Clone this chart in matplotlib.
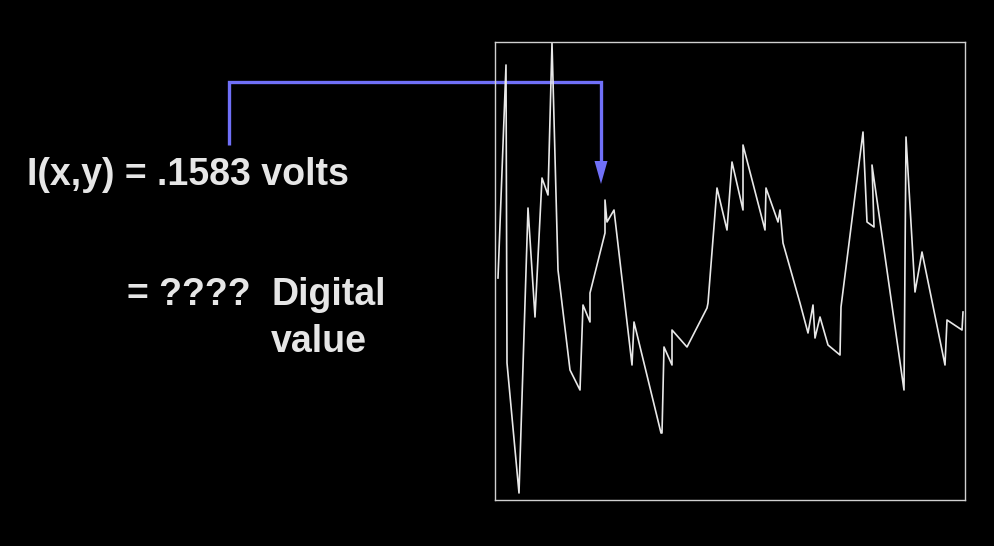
import matplotlib
matplotlib.use("Agg")
import matplotlib.pyplot as plt
from matplotlib.patches import Polygon

# waveform samples (time, amplitude)
t = [3, 11, 12, 24, 33, 40, 47, 53, 57, 63, 75, 85, 88, 95, 95, 110, 110, 112, 119,
     137, 139, 166, 167, 169, 177, 177, 192, 212, 213, 222, 232, 237, 248, 248, 270,
     271, 283, 285, 288, 305, 313, 318, 320, 325, 333, 345, 346, 368, 372, 379, 377,
     409, 411, 420, 427, 450, 452, 467, 468]
v = [222, 435, 137, 7, 292, 183, 322, 305, 457, 230, 130, 110, 195, 178, 207, 267,
     300, 278, 290, 135, 178, 67, 67, 153, 135, 170, 153, 192, 197, 312, 270, 338,
     290, 355, 270, 312, 278, 290, 257, 197, 167, 195, 162, 183, 155, 145, 193, 368,
     278, 273, 335, 110, 363, 208, 248, 135, 180, 170, 188]

label_main = "I(x,y) = .1583 volts"
label_q = "= ????"
label_d = "Digital"
label_v = "value"

W, H = 994, 546
fig = plt.figure(figsize=(W / 100, H / 100), dpi=100, facecolor="black")

# overlay in pixel coords for text and arrow
bg = fig.add_axes([0, 0, 1, 1], zorder=0)
bg.set_xlim(0, W)
bg.set_ylim(H, 0)
bg.axis("off")
bg.set_facecolor("black")

txt = dict(color="#e6e6e6", fontsize=27, fontweight="bold",
           family=["Liberation Sans", "DejaVu Sans"], va="baseline", ha="left")
bg.text(27, 185, label_main, **txt)
bg.text(127, 305, label_q, **txt)
bg.text(271, 305, label_d, **txt)
bg.text(271, 352, label_v, **txt)

blue = "#7070f8"
bg.plot([229, 229, 601, 601], [145, 82, 82, 163], color=blue, lw=2.4,
        solid_capstyle="butt", solid_joinstyle="miter")
bg.add_patch(Polygon([[594.5, 161], [607.5, 161], [601, 184]], closed=True,
                     facecolor=blue, edgecolor="none"))

# waveform box
ax = fig.add_axes([495 / W, 1 - 500 / H, 470 / W, 458 / H], zorder=1)
ax.patch.set_alpha(0)
ax.plot(t, v, color="#e8e8e8", lw=1.2)
ax.set_xlim(0, 470)
ax.set_ylim(0, 458)
ax.set_xticks([])
ax.set_yticks([])
for s in ax.spines.values():
    s.set_color("#d0d0d0")
    s.set_linewidth(1.0)

fig.savefig("out.png", dpi=100, facecolor="black")
